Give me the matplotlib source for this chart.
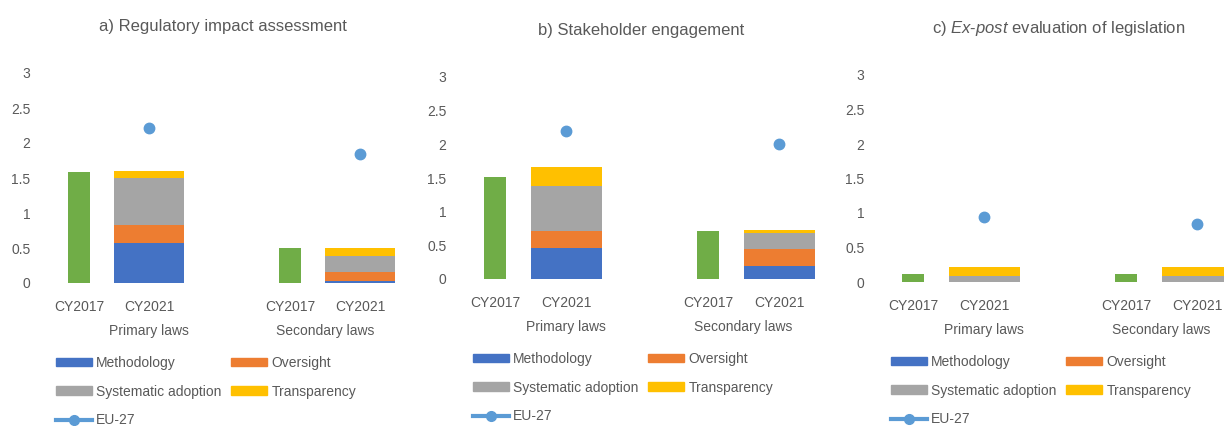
import matplotlib
matplotlib.use("Agg")
from matplotlib import pyplot as plt
from matplotlib.patches import Patch
from matplotlib.lines import Line2D

plt.rcParams['font.family'] = ['Liberation Sans', 'DejaVu Sans']
plt.rcParams['mathtext.fontset'] = 'custom'
plt.rcParams['mathtext.rm'] = 'Liberation Sans'
plt.rcParams['mathtext.it'] = 'Liberation Sans:italic'

# categories
years = ["CY2017", "CY2021", "CY2017", "CY2021"]
groups = ["Primary laws", "Secondary laws"]
titles = ["a) Regulatory impact assessment",
          "b) Stakeholder engagement",
          "c) $\\mathit{Ex}$-$\\mathit{post}$ evaluation of legislation"]

# a) Regulatory impact assessment (primary, secondary)
ria_2017 = [1.59, 0.50]
ria_meth = [0.57, 0.03]
ria_over = [0.26, 0.13]
ria_sys = [0.67, 0.23]
ria_trans = [0.10, 0.11]
ria_eu = [2.21, 1.85]

# b) Stakeholder engagement
se_2017 = [1.52, 0.71]
se_meth = [0.46, 0.19]
se_over = [0.26, 0.26]
se_sys = [0.66, 0.23]
se_trans = [0.28, 0.05]
se_eu = [2.20, 2.00]

# c) Ex-post evaluation
ev_2017 = [0.12, 0.12]
ev_meth = [0.0, 0.0]
ev_over = [0.0, 0.0]
ev_sys = [0.08, 0.08]
ev_trans = [0.14, 0.14]
ev_eu = [0.94, 0.84]

data = [
    (ria_2017, ria_meth, ria_over, ria_sys, ria_trans, ria_eu),
    (se_2017, se_meth, se_over, se_sys, se_trans, se_eu),
    (ev_2017, ev_meth, ev_over, ev_sys, ev_trans, ev_eu),
]

C_GREEN = '#70AD47'
C_METH = '#4472C4'
C_OVER = '#ED7D31'
C_SYS = '#A5A5A5'
C_TRANS = '#FFC000'
C_EU = '#5B9BD5'
TXT = '#595959'

W, H = 1224, 426
fig = plt.figure(figsize=(W / 100, H / 100), dpi=100)

# pixel layout per panel: x of first category, px per category, bottom, top, left, right,
# title x/y, legend x/y
layout = [
    (79, 70.3, 283, 73, 40, 410, 223, 26, 56, 356),
    (495, 71.0, 279, 77, 456, 818, 641, 30, 473, 352),
    (913, 71.0, 282, 75, 874, 1224, 1059, 28, 891, 355),
]

pos_2017 = [0, 3]
pos_2021 = [1, 4]

for k, (vals, lay) in enumerate(zip(data, layout)):
    y2017, meth, over, sys_, trans, eu = vals
    x0, unit, bot, top, left, right, tx, ty, lx, ly = lay
    ax = fig.add_axes([left / W, 1 - bot / H, (right - left) / W, (bot - top) / H])
    ax.patch.set_alpha(0)
    ax.set_xlim((left - x0) / unit, (right - x0) / unit)
    ax.set_ylim(0, 3)

    ax.bar(pos_2017, y2017, width=0.31, color=C_GREEN)
    b = [0, 0]
    for v, c in [(meth, C_METH), (over, C_OVER), (sys_, C_SYS), (trans, C_TRANS)]:
        ax.bar(pos_2021, v, width=1.0, bottom=b, color=c)
        b = [b[i] + v[i] for i in range(2)]
    ax.plot(pos_2021, eu, 'o', color=C_EU, markersize=7.5, clip_on=False, zorder=5)

    for s in ax.spines.values():
        s.set_visible(False)
    ax.set_yticks([0, 0.5, 1, 1.5, 2, 2.5, 3])
    ax.set_yticklabels(['0', '0.5', '1', '1.5', '2', '2.5', '3'])
    ax.set_xticks(pos_2017 + pos_2021)
    ax.set_xticklabels([years[0], years[2], years[1], years[3]])
    ax.tick_params(length=0, labelsize=10, colors=TXT)
    ax.tick_params(axis='y', pad=7)
    ax.tick_params(axis='x', pad=12)
    for gx, g in zip([1, 3.5], groups):
        ax.annotate(g, xy=(gx, 0), xycoords=('data', 'axes fraction'),
                    xytext=(0, -48), textcoords='offset pixels',
                    ha='center', va='center', fontsize=10, color=TXT)

    fig.text(tx / W, 1 - ty / H, titles[k], ha='center', va='center',
             fontsize=12, color=TXT)

    handles = [Patch(color=C_METH), Patch(color=C_SYS),
               Line2D([], [], color=C_EU, lw=3, marker='o', markersize=7),
               Patch(color=C_OVER), Patch(color=C_TRANS)]
    labels = ['Methodology', 'Systematic adoption', 'EU-27', 'Oversight', 'Transparency']
    fig.legend(handles, labels, ncol=2, loc='upper left',
               bbox_to_anchor=(lx / W, 1 - ly / H), frameon=False,
               borderpad=0, borderaxespad=0, fontsize=10, labelcolor=TXT,
               handlelength=2.6, handleheight=0.55, handletextpad=0.3,
               labelspacing=1.05, columnspacing=0.7)

fig.savefig('out.png', dpi=100)
